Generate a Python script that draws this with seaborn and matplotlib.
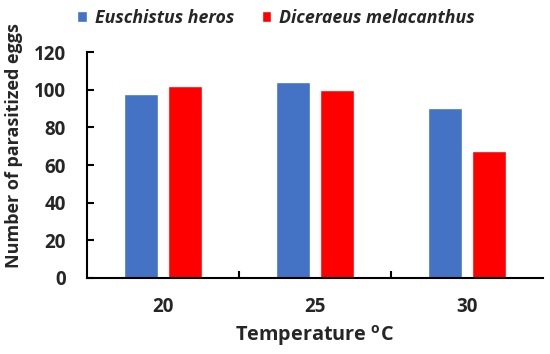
import pandas as pd
import numpy as np
import matplotlib
matplotlib.use("Agg")
import matplotlib.pyplot as plt
import seaborn as sns

# Values
temperatures = ["20", "25", "30"]
heros = [97.5, 104.3, 90.4]
melacanthus = [102.0, 100.0, 67.6]
species = ["Euschistus heros", "Diceraeus melacanthus"]
colors = ["#4472C4", "#FF0000"]

df = pd.DataFrame({
    "temperature": temperatures * 2,
    "eggs": heros + melacanthus,
    "species": [species[0]] * 3 + [species[1]] * 3,
})

sns.set_style("white")
plt.rcParams["font.family"] = ["Open Sans", "DejaVu Sans"]
plt.rcParams["font.weight"] = "bold"
plt.rcParams["mathtext.fontset"] = "custom"
plt.rcParams["mathtext.bf"] = "Open Sans:bold"
plt.rcParams["mathtext.rm"] = "Open Sans:bold"

fig = plt.figure(figsize=(5.5, 3.54), dpi=100)
ax = fig.add_axes([0.158, 0.2147, 0.829, 0.6383])

sns.barplot(
    data=df,
    x="temperature",
    y="eggs",
    hue="species",
    palette=colors,
    width=0.58,
    gap=0.22,
    saturation=1,
    legend=True,
    ax=ax,
)

ax.set_xlim(-0.5, 2.5)
ax.set_ylim(0, 120)
ax.set_yticks(np.arange(0, 121, 20))

# Category ticks without marks, small marks between groups
ax.set_xticks([0, 1, 2])
ax.set_xticklabels(temperatures)
ax.set_xticks([0.5, 1.5], minor=True)
ax.tick_params(axis="x", which="major", length=0, pad=14, labelsize=13.5)
ax.tick_params(axis="x", which="minor", direction="in", length=5, width=1.5,
               bottom=True, color="black")
ax.tick_params(axis="y", direction="in", length=5, width=1.5, pad=15,
               labelsize=13.5, left=True, color="black")

sns.despine(ax=ax)
for side in ["left", "bottom"]:
    ax.spines[side].set_linewidth(1.5)
    ax.spines[side].set_color("black")

ax.set_xlabel("Temperature $^{\\mathregular{o}}$C", fontsize=14.3, fontweight="bold", labelpad=4)
ax.set_ylabel("Number of parasitized eggs", fontsize=13, fontweight="bold")
ax.yaxis.set_label_coords(-0.14, 0.585)

handles, labels = ax.get_legend_handles_labels()
ax.get_legend().remove()
fig.legend(
    handles, labels,
    loc="center left",
    bbox_to_anchor=(77 / 550, 1 - 18 / 354),
    ncol=2,
    frameon=False,
    borderpad=0,
    borderaxespad=0,
    handlelength=0.55,
    handleheight=0.55,
    handletextpad=0.45,
    columnspacing=1.55,
    prop={"size": 12.8, "weight": "bold", "style": "italic"},
)

fig.savefig("out.png", dpi=100)
